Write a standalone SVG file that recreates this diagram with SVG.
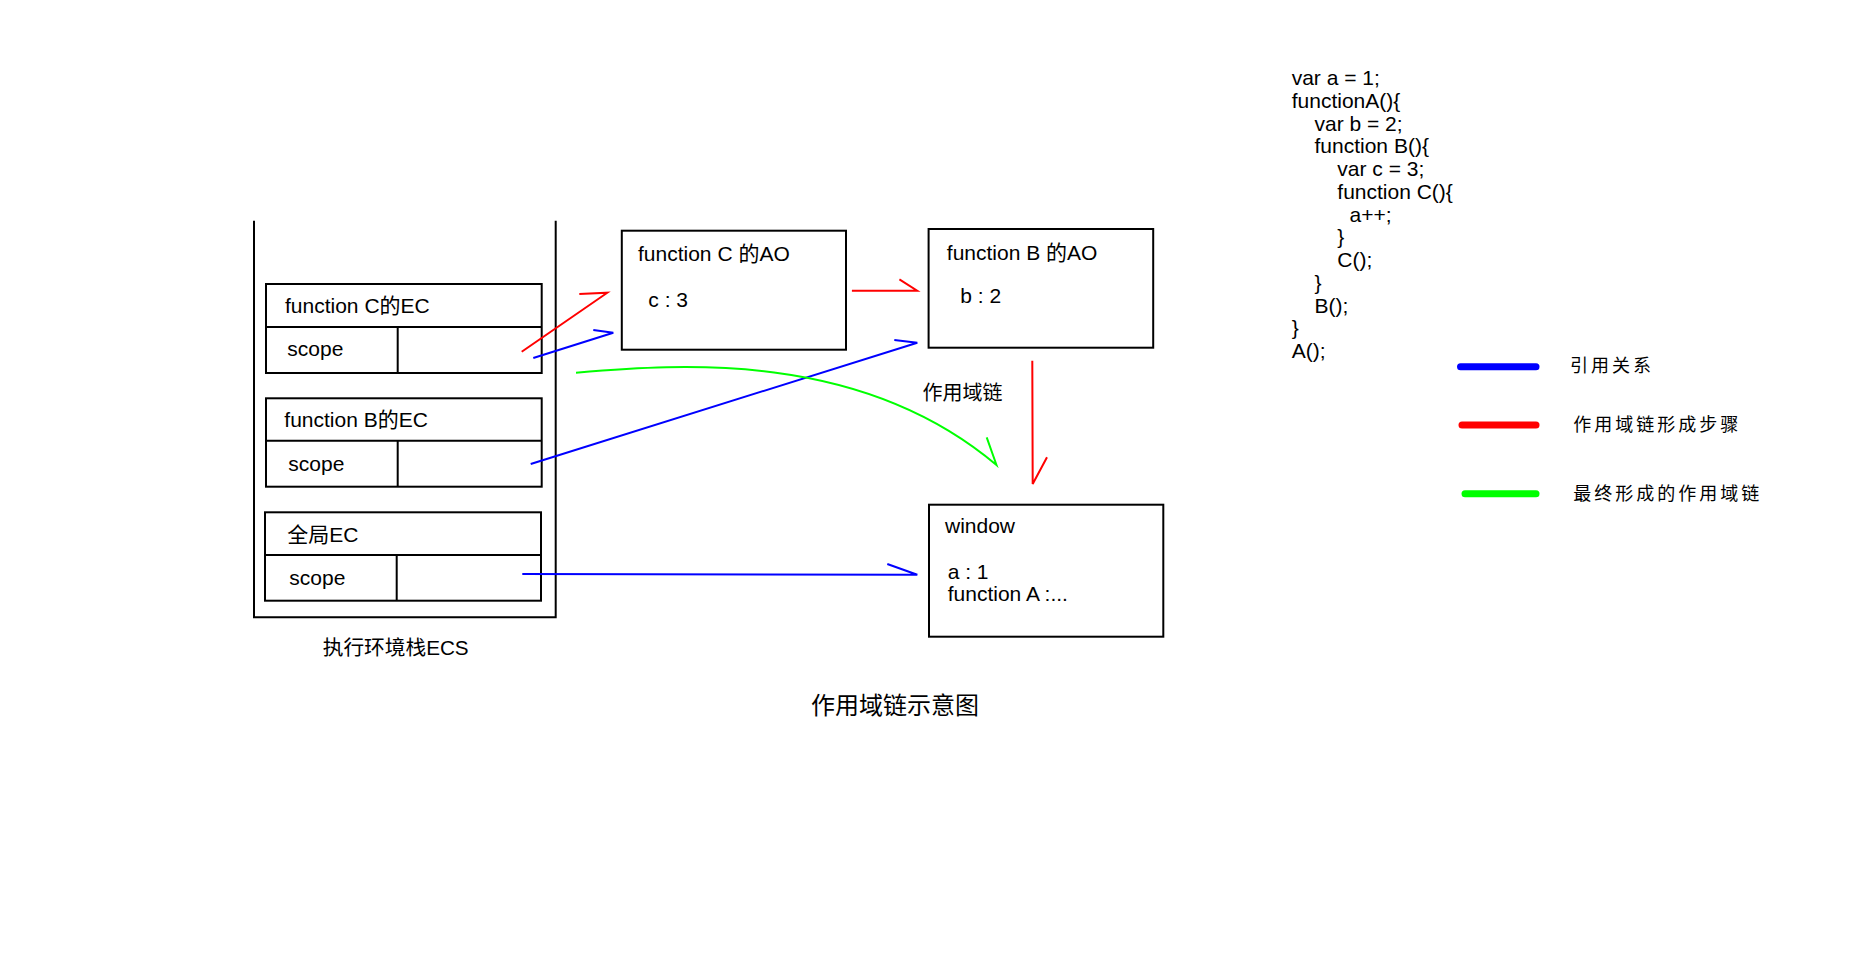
<svg xmlns="http://www.w3.org/2000/svg" width="1850" height="953" viewBox="0 0 1850 953">
  <style>
    .box { fill: #ffffff; stroke: #000000; stroke-width: 2; }
    .rule { fill: none; stroke: #000000; stroke-width: 2; }
    .t { font-family: "Liberation Sans", "Noto Sans CJK SC", sans-serif; font-size: 21px; fill: #000000; }
    .cjk { font-family: "Liberation Sans", "Noto Sans CJK SC", sans-serif; font-size: 20px; fill: #000000; }
    .stack-label { font-family: "Liberation Sans", "Noto Sans CJK SC", sans-serif; font-size: 20.7px; fill: #000000; }
    .title { font-family: "Liberation Sans", "Noto Sans CJK SC", sans-serif; font-size: 24px; fill: #000000; }
    .legend { font-family: "Liberation Sans", "Noto Sans CJK SC", sans-serif; font-size: 18px; letter-spacing: 3px; fill: #000000; }
    .ref { fill: none; stroke: #0000ff; stroke-width: 2; }
    .step { fill: none; stroke: #ff0000; stroke-width: 2; }
    .chain { fill: none; stroke: #00ff00; stroke-width: 2; }
    .key { fill: none; stroke-width: 7; stroke-linecap: round; }
  </style>
  <rect width="1850" height="953" fill="#ffffff"/>

  <!-- execution context stack (open at the top) -->
  <g id="ecs">
    <path class="rule" d="M254,220.7 V617.3 H555.7 V220.7"/>
    <text class="stack-label" x="322.7" y="655">执行环境栈ECS</text>
  </g>

  <g id="ec-c">
    <rect class="box" x="266" y="284" width="275.7" height="89"/>
    <path class="rule" d="M266,327 H541.7 M397.7,327 V373"/>
    <text class="t" x="285" y="312.7">function C的EC</text>
    <text class="t" x="287.3" y="356">scope</text>
  </g>

  <g id="ec-b">
    <rect class="box" x="266" y="398.3" width="275.7" height="88.4"/>
    <path class="rule" d="M266,440.7 H541.7 M397.7,440.7 V486.7"/>
    <text class="t" x="284.3" y="427.3">function B的EC</text>
    <text class="t" x="288.3" y="470.7">scope</text>
  </g>

  <g id="ec-global">
    <rect class="box" x="265" y="512.3" width="276" height="88.4"/>
    <path class="rule" d="M265,555 H541 M396.7,555 V600.7"/>
    <text class="t" x="287.3" y="541.7">全局EC</text>
    <text class="t" x="289.3" y="585">scope</text>
  </g>

  <g id="ao-c">
    <rect class="box" x="621.8" y="230.7" width="224.2" height="119"/>
    <text class="t" x="638" y="260.7">function C 的AO</text>
    <text class="t" x="648.3" y="306.7">c : 3</text>
  </g>

  <g id="ao-b">
    <rect class="box" x="928.6" y="229" width="224.6" height="118.7"/>
    <text class="t" x="946.8" y="260">function B 的AO</text>
    <text class="t" x="960.3" y="302.7">b : 2</text>
  </g>

  <g id="window">
    <rect class="box" x="929" y="504.7" width="234.3" height="132"/>
    <text class="t" x="945" y="532.7">window</text>
    <text class="t" x="947.7" y="578.7">a : 1</text>
    <text class="t" x="947.7" y="601">function A :...</text>
  </g>

  <!-- connectors: each ends in a single-sided barb -->
  <g id="connectors">
    <path class="step" d="M521.7,351.7 L607.3,292.7 L579.3,294"/>
    <path class="ref" d="M533.3,358 L613.3,332.7 L593.3,330"/>
    <path class="step" d="M851.9,290.7 L917.2,290.7 L899.4,279.3"/>
    <path class="ref" d="M530.7,464 L917.3,342.7 L894.3,340"/>
    <path class="ref" d="M522.3,574 L917.3,574.7 L887.3,564"/>
    <path class="step" d="M1032.3,360.7 L1032.7,484 L1047,457.3"/>
    <path class="chain" d="M576,372.7 C680,364 860,350 996.5,465 L986.7,437.3"/>
    <text class="cjk" x="922.5" y="400">作用域链</text>
  </g>

  <g id="caption">
    <text class="title" x="811" y="714">作用域链示意图</text>
  </g>

  <!-- source code listing -->
  <g id="code" class="t">
    <text x="1291.7" y="85">var a = 1;</text>
    <text x="1291.7" y="107.75">functionA(){</text>
    <text x="1314.5" y="130.5">var b = 2;</text>
    <text x="1314.5" y="153.25">function B(){</text>
    <text x="1337.3" y="176">var c = 3;</text>
    <text x="1337.3" y="198.75">function C(){</text>
    <text x="1349.5" y="221.5">a++;</text>
    <text x="1337.3" y="244.25">}</text>
    <text x="1337.3" y="267">C();</text>
    <text x="1314.5" y="289.75">}</text>
    <text x="1314.5" y="312.5">B();</text>
    <text x="1291.7" y="335.25">}</text>
    <text x="1291.7" y="358">A();</text>
  </g>

  <g id="legend">
    <line class="key" x1="1460.5" y1="366.7" x2="1536" y2="366.7" stroke="#0000ff"/>
    <text class="legend" x="1570" y="372">引用关系</text>
    <line class="key" x1="1462" y1="425" x2="1536" y2="425" stroke="#ff0000"/>
    <text class="legend" x="1573.3" y="431">作用域链形成步骤</text>
    <line class="key" x1="1465" y1="493.7" x2="1536" y2="493.7" stroke="#00ff00"/>
    <text class="legend" x="1573.3" y="499.5">最终形成的作用域链</text>
  </g>
</svg>
